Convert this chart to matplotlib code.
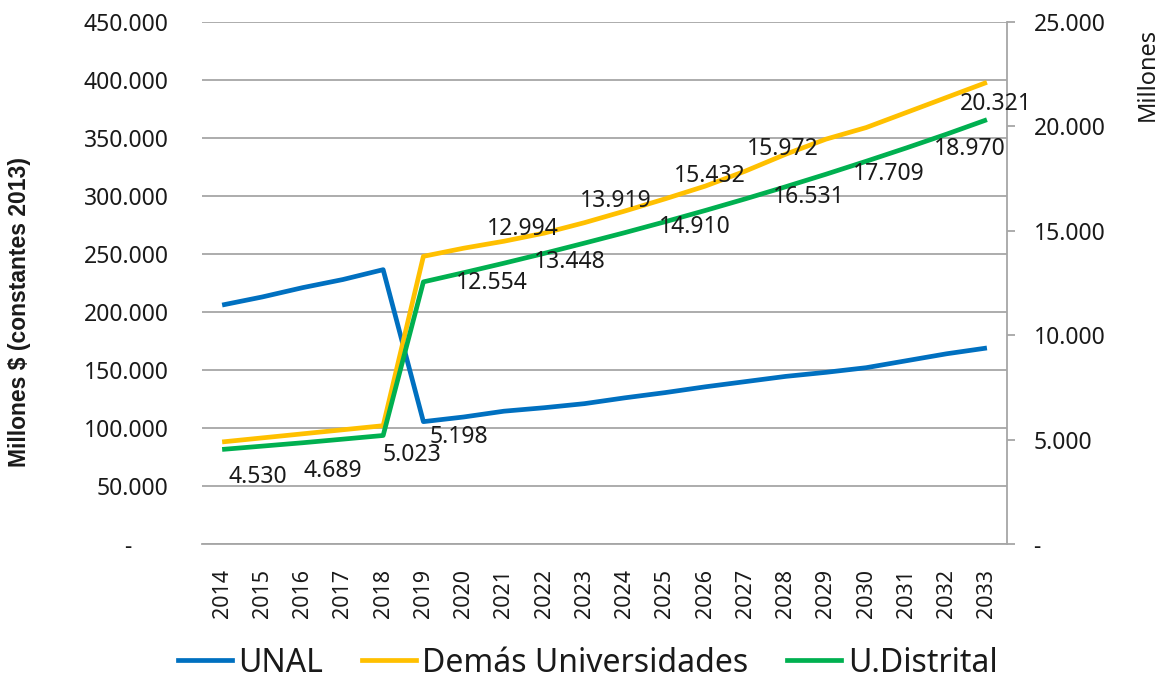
import matplotlib
matplotlib.use("Agg")
import matplotlib.pyplot as plt
from matplotlib.lines import Line2D

years = list(range(2014, 2034))
unal = [206000, 213000, 221000, 228000, 236500, 105500, 109500, 114500, 117500, 121000,
        126000, 130500, 135500, 140000, 144500, 148000, 152000, 158000, 164000, 169000]
demas = [88000, 91500, 95000, 98500, 102000, 248000, 255000, 261000, 268000, 277000,
         287000, 297500, 308500, 321500, 336000, 349000, 359000, 372000, 385000, 398000]
udistrital = [4530, 4689, 4850, 5023, 5198, 12554, 12994, 13448, 13919, 14410,
              14910, 15432, 15972, 16531, 17110, 17709, 18330, 18970, 19630, 20321]

# data labels of U.Distrital: index of the value and where its text sits (year axis, right axis)
label_idx = [0, 1, 3, 4, 5, 6, 7, 8, 10, 11, 12, 13, 15, 17, 19]
label_pos_x = [2014.89, 2016.76, 2018.71, 2019.87, 2020.69, 2021.48, 2022.64, 2023.77,
               2025.74, 2026.11, 2027.94, 2028.58, 2030.56, 2032.58, 2033.22]
label_pos_y = [3215, 3503, 4271, 5134, 12524, 15067, 13484, 16410,
               15160, 17610, 18906, 16600, 17706, 18906, 21065]

left_ticks = list(range(0, 450001, 50000))
right_ticks = list(range(0, 25001, 5000))

BLUE = "#0070C0"
YELLOW = "#FFC000"
GREEN = "#00B050"
GRID = "#A6A6A6"
TXT = "#1a1a1a"

def fmt(v):
    return f"{v:,.0f}".replace(",", ".")

plt.rcParams['font.family'] = ['Noto Sans', 'DejaVu Sans']

fig = plt.figure(figsize=(11.59, 6.85), dpi=100)
ax = fig.add_axes([0.1743, 0.2058, 0.8689 - 0.1743, 0.9679 - 0.2058])
ax2 = ax.twinx()

ax.plot(years, unal, color=BLUE, lw=3.4, solid_capstyle='butt', zorder=3)
ax.plot(years, demas, color=YELLOW, lw=3.4, solid_capstyle='butt', zorder=3)
ax2.plot(years, udistrital, color=GREEN, lw=3.4, solid_capstyle='butt', zorder=3)

ax.set_xlim(2013.5, 2033.5)
ax.set_ylim(0, 450000)
ax2.set_ylim(0, 25000)

ax.set_yticks(left_ticks)
ax.set_yticklabels(["-      "] + [fmt(v) for v in left_ticks[1:]])
ax2.set_yticks(right_ticks)
ax2.set_yticklabels(["-"] + [fmt(v) for v in right_ticks[1:]])
ax.set_xticks(years)
ax.set_xticklabels([str(y) for y in years], rotation=90)

ax.grid(axis='y', color=GRID, lw=1.3)
ax.set_axisbelow(True)
for s in ['left', 'top', 'right']:
    ax.spines[s].set_visible(False)
ax.spines['bottom'].set_color(GRID)
ax.spines['bottom'].set_linewidth(1.3)
for s in ['left', 'top', 'bottom']:
    ax2.spines[s].set_visible(False)
ax2.spines['right'].set_color(GRID)
ax2.spines['right'].set_linewidth(1.3)

ax.tick_params(axis='y', length=0, pad=24, labelsize=16.5, labelcolor=TXT)
ax.tick_params(axis='x', length=0, pad=18, labelsize=15.5, labelcolor=TXT)
ax2.tick_params(axis='y', length=6, width=1.3, color=GRID, pad=13, labelsize=16.5, labelcolor=TXT)

fig.text(20 / 1159, 1 - 312 / 685, "Millones $ (constantes 2013)", rotation=90,
         ha='center', va='center', fontsize=16.5, fontweight='bold', color=TXT,
         family=['Liberation Sans', 'DejaVu Sans'])
fig.text(0.9905, 0.96, "Millones", rotation=90, ha='center', va='top', fontsize=17, color=TXT)

for i, lx, ly in zip(label_idx, label_pos_x, label_pos_y):
    ax2.text(lx, ly, fmt(udistrital[i]), ha='center', va='center', fontsize=16.5, color=TXT, zorder=5)

handles = [Line2D([0], [0], color=BLUE, lw=3.4),
           Line2D([0], [0], color=YELLOW, lw=3.4),
           Line2D([0], [0], color=GREEN, lw=3.4)]
fig.legend(handles, ["UNAL", "Demás Universidades", "U.Distrital"], loc='center',
           bbox_to_anchor=(0.507, 0.032), ncol=3, frameon=False, fontsize=23,
           handlelength=1.7, handletextpad=0.2, columnspacing=1.2, labelcolor=TXT)

fig.savefig("out.png", dpi=100)
